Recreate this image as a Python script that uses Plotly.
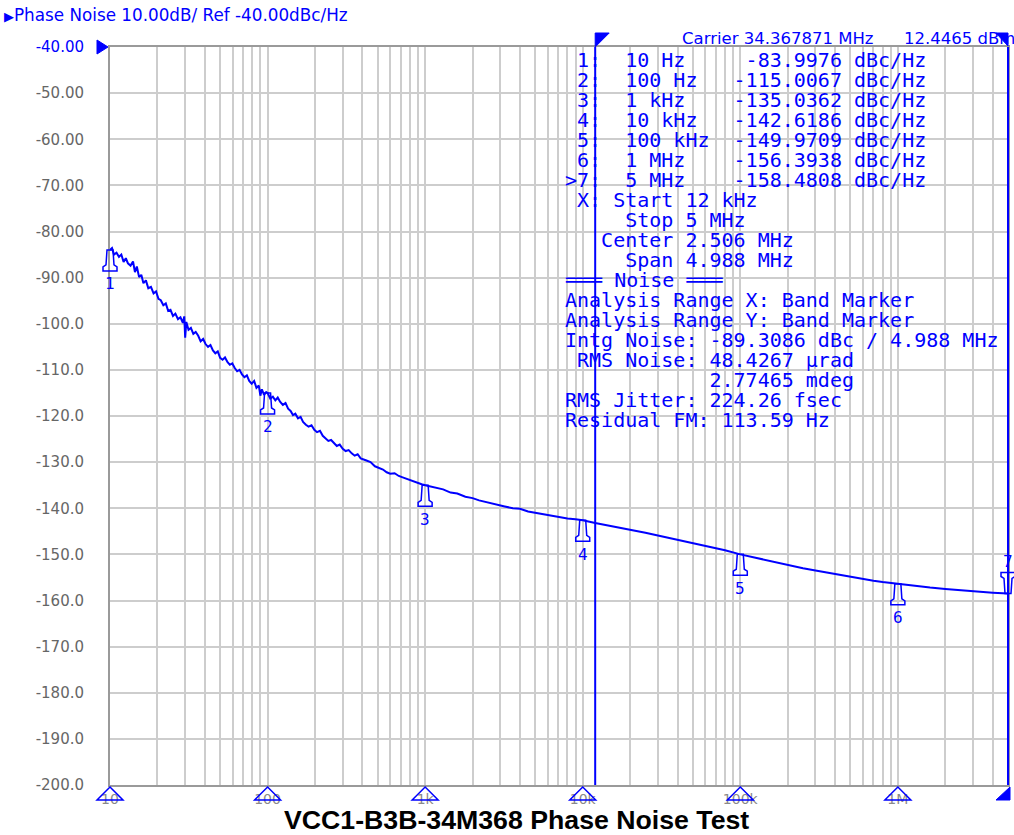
import math
import plotly.graph_objects as go

# ---------------- data ----------------
freq_hz = [10, 10.3, 10.6, 11.0, 11.4, 11.8, 12.2, 12.6, 13.0, 13.5, 14.0, 14.4, 14.8,
           15.3, 15.8, 16.3, 16.9, 17.5, 18.2, 18.9, 19.6, 20.3, 21.0, 21.8, 22.6, 23.4,
           24.2, 25.1, 26.0, 27.0, 28.0, 29.0, 29.6, 30.0, 30.5, 31.5, 32.6, 33.8, 35.0,
           36.3, 37.6, 39.0, 40.4, 41.9, 43.4, 45.0, 46.6, 48.3, 50.0, 51.8, 53.7, 55.6,
           57.6, 59.7, 61.9, 64.1, 66.4, 68.8, 71.3, 73.9, 76.5, 79.3, 82.2, 85.0, 88.0,
           90.0, 92.0, 95.0, 98.0, 100, 104, 108, 112, 116, 120, 125, 130, 135, 140, 145,
           150, 156, 162, 168, 175, 182, 190, 198, 206, 215, 224, 233, 243, 253, 264, 275,
           287, 300, 313, 327, 342, 357, 373, 390, 420, 450, 480, 510, 540, 570, 600, 640,
           680, 720, 760, 800, 850, 900, 950, 1000, 1100, 1200, 1300, 1450, 1600, 1800,
           2000, 2200, 2500, 2800, 3200, 3600, 4000, 4500, 5000, 5600, 6300, 7100, 8000,
           9000, 10000, 12000, 15000, 20000, 25000, 30000, 40000, 50000, 60000, 70000,
           80000, 100000, 130000, 160000, 200000, 250000, 300000, 400000, 500000, 600000,
           700000, 800000, 1000000, 1300000, 1600000, 2000000, 2500000, 3000000, 4000000,
           5000000]
pn_dbc = [-84.0, -83.6, -85.0, -84.6, -85.5, -85.0, -86.6, -85.8, -86.9, -87.4, -86.5, -88.8, -87.6,
          -89.9, -89.4, -91.2, -90.6, -92.3, -92.0, -93.4, -93.0, -94.6, -94.9, -96.0, -95.6, -97.2,
          -97.0, -98.3, -97.8, -99.0, -98.6, -99.8, -98.4, -103.0, -99.6, -101.3, -100.9, -102.2, -101.8,
          -102.6, -103.8, -103.3, -104.4, -105.0, -104.6, -105.8, -106.4, -106.0, -107.4, -107.8, -107.3, -108.3,
          -108.9, -108.6, -109.6, -110.3, -110.0, -111.0, -111.6, -111.2, -112.4, -113.0, -112.4, -113.9, -113.4,
          -115.6, -114.2, -115.4, -114.8, -115.0, -116.2, -115.8, -116.6, -116.0, -116.9, -117.6, -117.2, -118.4, -118.9, -119.8,
          -119.5, -120.5, -120.2, -121.3, -121.9, -122.3, -122.0, -123.0, -123.5, -123.2, -124.3, -124.8, -125.4, -125.2, -126.0, -126.5,
          -126.2, -127.1, -127.6, -127.4, -128.1, -128.6, -128.3, -129.2, -129.6, -130.0, -130.9, -131.3, -131.6, -132.2, -132.5, -132.4,
          -133.0, -133.3, -133.6, -133.9, -134.2, -134.6, -134.8, -135.0, -135.3, -135.7, -135.9, -136.6, -136.8, -137.5,
          -137.8, -138.3, -138.8, -139.1, -139.6, -140.0, -140.1, -140.7, -141.0, -141.3, -141.6, -141.9, -142.2,
          -142.4, -142.6, -143.2, -143.8, -144.6, -145.3, -145.9, -146.8, -147.5, -148.1, -148.6,
          -149.1, -150.0, -150.9, -151.5, -152.3, -153.0, -153.5, -154.3, -154.9, -155.3,
          -155.7, -156.0, -156.4, -156.9, -157.2, -157.5, -157.8, -158.0, -158.3,
          -158.5]

marker_ids = ["1", "2", "3", "4", "5", "6", "7"]
marker_freq_hz = [10, 100, 1000, 10000, 100000, 1000000, 5000000]
marker_dbc = [-83.9976, -115.0067, -135.0362, -142.6186, -149.9709, -156.3938, -158.4808]
marker_freq_text = ["10 Hz", "100 Hz", "1 kHz", "10 kHz", "100 kHz", "1 MHz", "5 MHz"]
marker_val_text = ["-83.9976", "-115.0067", "-135.0362", "-142.6186", "-149.9709", "-156.3938", "-158.4808"]
active_marker = "7"

band_start_hz = 12000
band_stop_hz = 5000000
x_min_hz = 10
x_max_hz = 5000000
y_min, y_max = -200, -40

x_decades = [10, 100, 1000, 10000, 100000, 1000000]
x_decade_labels = ["10", "100", "1k", "10k", "100k", "1M"]
y_tick_vals = [-40, -50, -60, -70, -80, -90, -100, -110, -120, -130, -140, -150, -160, -170, -180, -190, -200]
y_tick_text = ["-40.00", "-50.00", "-60.00", "-70.00", "-80.00", "-90.00", "-100.0", "-110.0", "-120.0",
               "-130.0", "-140.0", "-150.0", "-160.0", "-170.0", "-180.0", "-190.0", "-200.0"]

header_text = "Phase Noise 10.00dB/ Ref -40.00dBc/Hz"
carrier_text = "Carrier 34.367871 MHz"
carrier_power_text = "12.4465 dBm"
info_lines = [
    " X: Start 12 kHz",
    "     Stop 5 MHz",
    "   Center 2.506 MHz",
    "     Span 4.988 MHz",
    "\u2550\u2550\u2550 Noise \u2550\u2550\u2550",
    "Analysis Range X: Band Marker",
    "Analysis Range Y: Band Marker",
    "Intg Noise: -89.3086 dBc / 4.988 MHz",
    " RMS Noise: 48.4267 \u00b5rad",
    "            2.77465 mdeg",
    "RMS Jitter: 224.26 fsec",
    "Residual FM: 113.59 Hz",
]
chart_title = "VCC1-B3B-34M368 Phase Noise Test"

# ---------------- layout geometry ----------------
W, H = 1014, 835
ML, MR, MT, MB = 110, 4, 47, 50
PW, PH = W - ML - MR, H - MT - MB
BLUE = "#0000ff"
GRID = "#cdcdcd"


def px_x(px):
    return (px - ML) / PW


def px_y(py):
    return (H - MB - py) / PH


def xref_for(f):
    if f == x_min_hz:
        return "x domain", 0
    if f == x_max_hz:
        return "x domain", 1
    return "x", f


def pshape(f, yref, yval, path, fill=None, width=1.5):
    xr, xa = xref_for(f)
    d = dict(type="path", xref=xr, yref=yref, xsizemode="pixel", ysizemode="pixel",
             xanchor=xa, yanchor=yval, path=path, layer="above",
             line=dict(color=BLUE, width=width))
    if fill:
        d["fillcolor"] = fill
    return d


fig = go.Figure()
fig.add_trace(go.Scatter(x=freq_hz, y=pn_dbc, mode="lines",
                         line=dict(color=BLUE, width=2), hoverinfo="skip", showlegend=False))

shapes = []
for f in [band_start_hz, band_stop_hz]:
    xr, xa = xref_for(f)
    shapes.append(dict(type="line", xref=xr, yref="y domain", x0=xa, x1=xa, y0=0, y1=1,
                       layer="above", line=dict(color=BLUE, width=2)))
shapes.append(pshape(band_start_hz, "y domain", 1, "M 0,0 L 0,14 L 14,14 Z", fill=BLUE, width=1))
shapes.append(pshape(band_stop_hz, "y domain", 1, "M 0,1 L 0,14 L -12,14 Z", fill=BLUE, width=1))
shapes.append(pshape(band_stop_hz, "y domain", 0, "M 2,-2 L 2,-15 L -12,-15 Z", fill=BLUE, width=1))
shapes.append(pshape(x_min_hz, "y domain", 1, "M -13,7 L -13,-7 L -2,0 Z", fill=BLUE, width=1))
for f in x_decades:
    shapes.append(pshape(f, "y domain", 0, "M 0,-2 L 13,-15 L -13,-15 Z", width=1.5))

annotations = []
for mid, f, v in zip(marker_ids, marker_freq_hz, marker_dbc):
    if mid == active_marker:
        path = "M -3,0 L 3,0 L 4,15 L 7,17 L 7,21 L -7,21 L -7,17 L -4,15 Z"
        ys = 32
    else:
        path = "M -3,0 L 3,0 L 4,-15 L 7,-17 L 7,-21 L -7,-21 L -7,-17 L -4,-15 Z"
        ys = -34
    shapes.append(pshape(f, "y", v, path, width=1.5))
    annotations.append(dict(x=math.log10(f), y=v, xref="x", yref="y", text=mid, showarrow=False,
                            yshift=ys, xanchor="center", yanchor="middle",
                            font=dict(family="DejaVu Sans Mono", size=16, color=BLUE)))


def txt(px, py, s, size, family="DejaVu Sans", color=BLUE, anchor="left", nb=True):
    return dict(xref="paper", yref="paper", x=px_x(px), y=px_y(py), xanchor=anchor, yanchor="middle",
                text=s.replace(" ", "\u00a0") if nb else s, showarrow=False,
                font=dict(family=family, size=size, color=color))


annotations.append(txt(2, 15, "<span style='font-size:13px'>\u25b6</span>" + header_text.replace(" ", "\u00a0"),
                       16.8, nb=False))
annotations.append(txt(681, 39, carrier_text, 16.5))
annotations.append(txt(904, 39, carrier_power_text, 16.5))

table_lines = []
for mid, ft, vt in zip(marker_ids, marker_freq_text, marker_val_text):
    lead = ">" if mid == active_marker else " "
    table_lines.append(f"{lead}{mid}:  {ft:<9}{vt:>9} dBc/Hz")
table_lines += info_lines
for i, line in enumerate(table_lines):
    annotations.append(txt(564, 60 + 20 * i, line, 20, family="DejaVu Sans Mono"))

annotations.append(dict(xref="paper", yref="paper", x=px_x(517), y=px_y(820), xanchor="center",
                        yanchor="middle", showarrow=False, text="<b>" + chart_title + "</b>",
                        font=dict(family="Liberation Sans, Arial", size=26.7, color="black")))

x_tickvals = [m * d for d in [10, 100, 1000, 10000, 100000, 1000000] for m in range(1, 10) if m * d <= x_max_hz]
x_ticktext = [x_decade_labels[x_decades.index(v)] if v in x_decades else "" for v in x_tickvals]
y_ticktext = ["<span style='color:#0000ff'>" + y_tick_text[0] + "</span>"] + y_tick_text[1:]

fig.update_layout(
    width=W, height=H,
    margin=dict(l=ML, r=MR, t=MT, b=MB),
    paper_bgcolor="white", plot_bgcolor="white",
    showlegend=False,
    shapes=shapes, annotations=annotations,
    xaxis=dict(type="log", range=[math.log10(x_min_hz), math.log10(x_max_hz)],
               tickvals=x_tickvals, ticktext=x_ticktext, showgrid=True, gridcolor=GRID, gridwidth=2,
               showline=True, linecolor="#9a9a9a", linewidth=2, mirror=True, zeroline=False,
               ticks="", tickfont=dict(family="DejaVu Sans", size=14, color="#8a8a8a")),
    yaxis=dict(range=[y_min, y_max], tickvals=y_tick_vals, ticktext=y_ticktext,
               showgrid=True, gridcolor=GRID, gridwidth=2, showline=True, linecolor="#9a9a9a",
               linewidth=2, mirror=True, zeroline=False, ticks="", ticklabelstandoff=21,
               tickfont=dict(family="DejaVu Sans", size=15, color="#666666")),
)

fig.write_html("out.html", config={"displayModeBar": False},
               post_script="document.body.style.margin='0';document.body.style.overflow='hidden';")
